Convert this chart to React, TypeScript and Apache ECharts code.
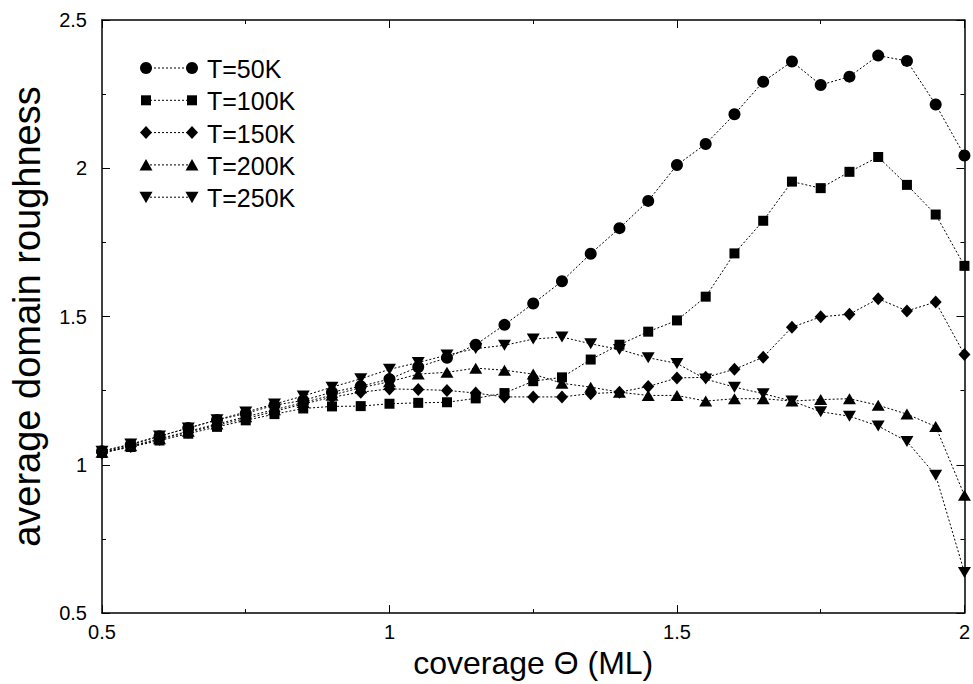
import React, { useEffect, useRef } from "react";
import * as echarts from "echarts";

const coverage = [0.5, 0.55, 0.6, 0.65, 0.7, 0.75, 0.8, 0.85, 0.9, 0.95, 1.0, 1.05, 1.1, 1.15, 1.2, 1.25, 1.3, 1.35, 1.4, 1.45, 1.5, 1.55, 1.6, 1.65, 1.7, 1.75, 1.8, 1.85, 1.9, 1.95, 2.0];

const t50 = [1.046, 1.068, 1.096, 1.124, 1.151, 1.173, 1.201, 1.217, 1.245, 1.265, 1.289, 1.33, 1.361, 1.405, 1.472, 1.544, 1.619, 1.712, 1.798, 1.89, 2.011, 2.082, 2.182, 2.292, 2.36, 2.281, 2.309, 2.38, 2.362, 2.215, 2.043];
const t100 = [1.04, 1.06, 1.082, 1.105, 1.128, 1.15, 1.171, 1.19, 1.197, 1.198, 1.206, 1.209, 1.211, 1.224, 1.242, 1.282, 1.295, 1.355, 1.405, 1.449, 1.487, 1.567, 1.713, 1.823, 1.955, 1.933, 1.988, 2.038, 1.944, 1.844, 1.671];
const t150 = [1.04, 1.062, 1.086, 1.11, 1.134, 1.156, 1.18, 1.205, 1.228, 1.245, 1.256, 1.254, 1.251, 1.242, 1.229, 1.229, 1.229, 1.24, 1.245, 1.264, 1.293, 1.295, 1.322, 1.363, 1.464, 1.499, 1.508, 1.56, 1.519, 1.549, 1.372];
const t200 = [1.042, 1.064, 1.088, 1.113, 1.138, 1.162, 1.186, 1.21, 1.235, 1.26, 1.28, 1.306, 1.312, 1.326, 1.319, 1.306, 1.275, 1.262, 1.245, 1.234, 1.234, 1.215, 1.223, 1.223, 1.215, 1.22, 1.223, 1.201, 1.171, 1.129, 0.897];
const t250 = [1.046, 1.07, 1.097, 1.124, 1.152, 1.178, 1.205, 1.232, 1.262, 1.29, 1.322, 1.345, 1.37, 1.392, 1.403, 1.424, 1.431, 1.408, 1.389, 1.361, 1.342, 1.289, 1.262, 1.24, 1.215, 1.179, 1.164, 1.131, 1.079, 0.965, 0.637];

const seriesNames = ["T=50K", "T=100K", "T=150K", "T=200K", "T=250K"];
const xTitle = "coverage \u0398 (ML)";
const yTitle = "average domain roughness";

const FONT = "'Liberation Sans', Arial, Helvetica, sans-serif";

export default function App() {
  const ref = useRef<HTMLDivElement>(null);

  useEffect(() => {
    if (!ref.current) return;
    const chart = echarts.init(ref.current, null, { renderer: "svg" });

    const values = [t50, t100, t150, t200, t250];
    const symbols = ["circle", "rect", "diamond", "triangle", "triangle"];
    const sizes: any[] = [12, 10, [12, 13], [13, 11], [13, 11]];
    const rotates = [0, 0, 0, 0, 180];

    const series = values.map((vals, i) => ({
      name: seriesNames[i],
      type: "line",
      data: coverage.map((x, j) => [x, vals[j]]),
      symbol: symbols[i],
      symbolSize: sizes[i],
      symbolRotate: rotates[i],
      showAllSymbol: true,
      itemStyle: { color: "#000" },
      lineStyle: { color: "#000", width: 1, type: [2, 2] },
      z: 2 + i,
    }));

    const legendEls: any[] = [];
    const rowY0 = 68;
    const rowDy = 32.3;
    const xL = 146;
    const xR = 192;
    const markerFor = (i: number, cx: number, cy: number) => {
      const st = { fill: "#000" };
      if (i === 0) return { type: "circle", shape: { cx, cy, r: 6 }, style: st };
      if (i === 1) return { type: "rect", shape: { x: cx - 5, y: cy - 5, width: 10, height: 10 }, style: st };
      if (i === 2)
        return { type: "polygon", shape: { points: [[cx, cy - 6.5], [cx + 6, cy], [cx, cy + 6.5], [cx - 6, cy]] }, style: st };
      if (i === 3)
        return { type: "polygon", shape: { points: [[cx, cy - 6], [cx + 6.5, cy + 5.5], [cx - 6.5, cy + 5.5]] }, style: st };
      return { type: "polygon", shape: { points: [[cx, cy + 6], [cx + 6.5, cy - 5.5], [cx - 6.5, cy - 5.5]] }, style: st };
    };
    seriesNames.forEach((name, i) => {
      const y = rowY0 + i * rowDy;
      legendEls.push({
        type: "line",
        shape: { x1: xL, y1: y, x2: xR, y2: y },
        style: { stroke: "#000", lineWidth: 1, lineDash: [2, 2] },
      });
      legendEls.push(markerFor(i, xL, y));
      legendEls.push(markerFor(i, xR, y));
      legendEls.push({
        type: "text",
        x: 207,
        y: y + 1,
        style: { text: name, fontSize: 25, fontFamily: FONT, fill: "#000", verticalAlign: "middle", align: "left" },
      });
    });

    const axisCommon = {
      type: "value",
      min: 0.5,
      interval: 0.5,
      axisLine: { show: true, onZero: false, lineStyle: { color: "#000", width: 1.5 } },
      axisTick: { show: true, inside: true, length: 8, lineStyle: { color: "#000", width: 1 } },
      minorTick: { show: true, splitNumber: 2, length: 4, lineStyle: { color: "#000", width: 1 } },
      splitLine: { show: false },
      minorSplitLine: { show: false },
    };

    chart.setOption({
      animation: false,
      backgroundColor: "#fff",
      grid: { left: 95, right: 4, top: 20, bottom: 61, containLabel: false },
      xAxis: [
        {
          ...axisCommon,
          max: 2,
          position: "bottom",
          name: xTitle,
          nameLocation: "middle",
          nameGap: 32,
          nameTextStyle: { fontSize: 32, fontFamily: FONT, color: "#000" },
          axisLabel: { fontSize: 20, fontFamily: FONT, color: "#000", margin: 9 },
        },
        { ...axisCommon, max: 2, position: "top", axisLabel: { show: false } },
      ],
      yAxis: [
        {
          ...axisCommon,
          max: 2.5,
          position: "left",
          name: yTitle,
          nameLocation: "middle",
          nameGap: 56,
          nameTextStyle: { fontSize: 38, fontFamily: FONT, color: "#000" },
          axisLabel: { fontSize: 20, fontFamily: FONT, color: "#000", margin: 15 },
        },
        { ...axisCommon, max: 2.5, position: "right", axisLabel: { show: false } },
      ],
      series,
      graphic: legendEls,
    });

    return () => chart.dispose();
  }, []);

  return <div ref={ref} style={{ position: "fixed", left: 0, top: 0, width: 973, height: 684 }} />;
}
